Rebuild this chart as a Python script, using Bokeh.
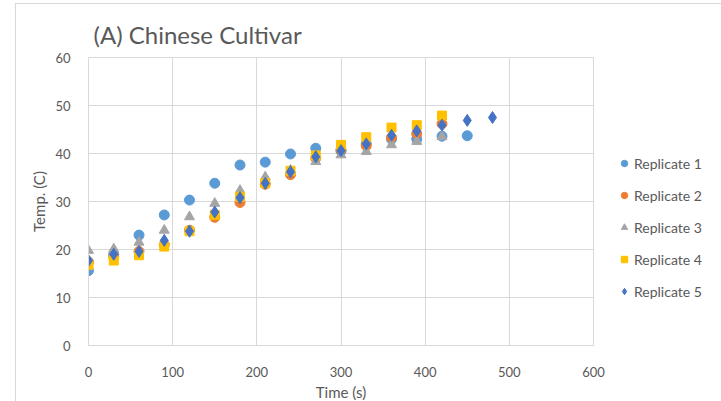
from bokeh.plotting import figure
from bokeh.models import FixedTicker, Legend, LegendItem, Range1d
from bokeh.embed import file_html
from bokeh.resources import INLINE

times = [0, 30, 60, 90, 120, 150, 180, 210, 240, 270, 300, 330, 360, 390, 420, 450, 480]

rep1 = [15.6, 19.0, 23.0, 27.2, 30.3, 33.8, 37.6, 38.2, 39.9, 41.1, 40.5, 42.0, 43.0, 43.0, 43.6, 43.7]
rep2 = [17.4, 18.5, 19.6, 21.0, 24.0, 26.7, 29.8, 33.6, 35.6, 39.0, 40.8, 41.6, 43.3, 44.1, 46.2]
rep3 = [19.8, 20.1, 21.5, 24.0, 26.8, 29.6, 32.3, 35.1, 36.5, 38.3, 39.7, 40.4, 41.8, 42.5, 43.5]
rep4 = [16.8, 17.7, 18.8, 20.6, 23.8, 27.2, 31.0, 33.8, 36.4, 39.6, 41.8, 43.4, 45.4, 45.9, 47.9]
rep5 = [17.7, 19.0, 19.6, 21.9, 23.8, 27.8, 30.8, 33.8, 36.2, 39.3, 40.6, 42.0, 43.8, 44.7, 45.9, 46.9, 47.5]

series_names = ["Replicate 1", "Replicate 2", "Replicate 3", "Replicate 4", "Replicate 5"]
series_vals = [rep1, rep2, rep3, rep4, rep5]
colors = ["#5B9BD5", "#ED7D31", "#A5A5A5", "#FFC000", "#4472C4"]
markers = ["circle", "circle", "triangle", "square", "diamond"]
sizes = [10, 10, 10, 9, 12]

x_ticks = [0, 100, 200, 300, 400, 500, 600]
y_ticks = [0, 10, 20, 30, 40, 50, 60]

FONT = "Lato"
TXT = "#595959"
GRID = "#D9D9D9"

p = figure(frame_width=505, frame_height=288, output_backend="svg", toolbar_location=None,
           x_range=Range1d(0, 600), y_range=Range1d(0, 60),
           min_border_left=72, min_border_right=127, min_border_top=53, min_border_bottom=50)

p.title.text = "(A) Chinese Cultivar"
p.title.text_font = FONT
p.title.text_font_size = "24px"
p.title.text_font_style = "normal"
p.title.text_color = TXT
p.title.offset = 5
p.title.standoff = 18

p.outline_line_color = GRID
p.background_fill_color = "white"

for ax in (p.xaxis[0], p.yaxis[0]):
    ax.axis_line_color = GRID
    ax.major_tick_line_color = None
    ax.minor_tick_line_color = None
    ax.major_label_text_color = TXT
    ax.major_label_text_font = FONT
    ax.major_label_text_font_size = "13px"
    ax.axis_label_text_color = TXT
    ax.axis_label_text_font = FONT
    ax.axis_label_text_font_size = "15px"
    ax.axis_label_text_font_style = "normal"

p.xaxis.ticker = FixedTicker(ticks=x_ticks)
p.yaxis.ticker = FixedTicker(ticks=y_ticks)
p.xaxis.axis_label = "Time (s)"
p.yaxis.axis_label = "Temp. (C)"
p.xaxis.major_label_standoff = 15
p.xaxis.axis_label_standoff = 3
p.yaxis.major_label_standoff = 12
p.yaxis.axis_label_standoff = 4

p.xgrid.ticker = FixedTicker(ticks=x_ticks)
p.ygrid.ticker = FixedTicker(ticks=y_ticks)
p.xgrid.grid_line_color = GRID
p.ygrid.grid_line_color = GRID

items = []
for name, vals, c, m, s in zip(series_names, series_vals, colors, markers, sizes):
    r = p.scatter(times[:len(vals)], vals, marker=m, size=s, fill_color=c, line_color=c)
    items.append(LegendItem(label=name, renderers=[r]))

legend = Legend(items=items, location=(23, 44))
legend.background_fill_alpha = 0
legend.border_line_color = None
legend.label_text_font = FONT
legend.label_text_font_size = "14px"
legend.label_text_color = TXT
legend.padding = 0
legend.margin = 0
legend.spacing = 12
legend.glyph_width = 16
legend.glyph_height = 20
legend.label_standoff = 2
p.add_layout(legend, "right")

p.styles = {"border": "1px solid #D9D9D9", "margin-left": "15px", "margin-top": "3px"}

open("out.html", "w").write(file_html(p, INLINE))
